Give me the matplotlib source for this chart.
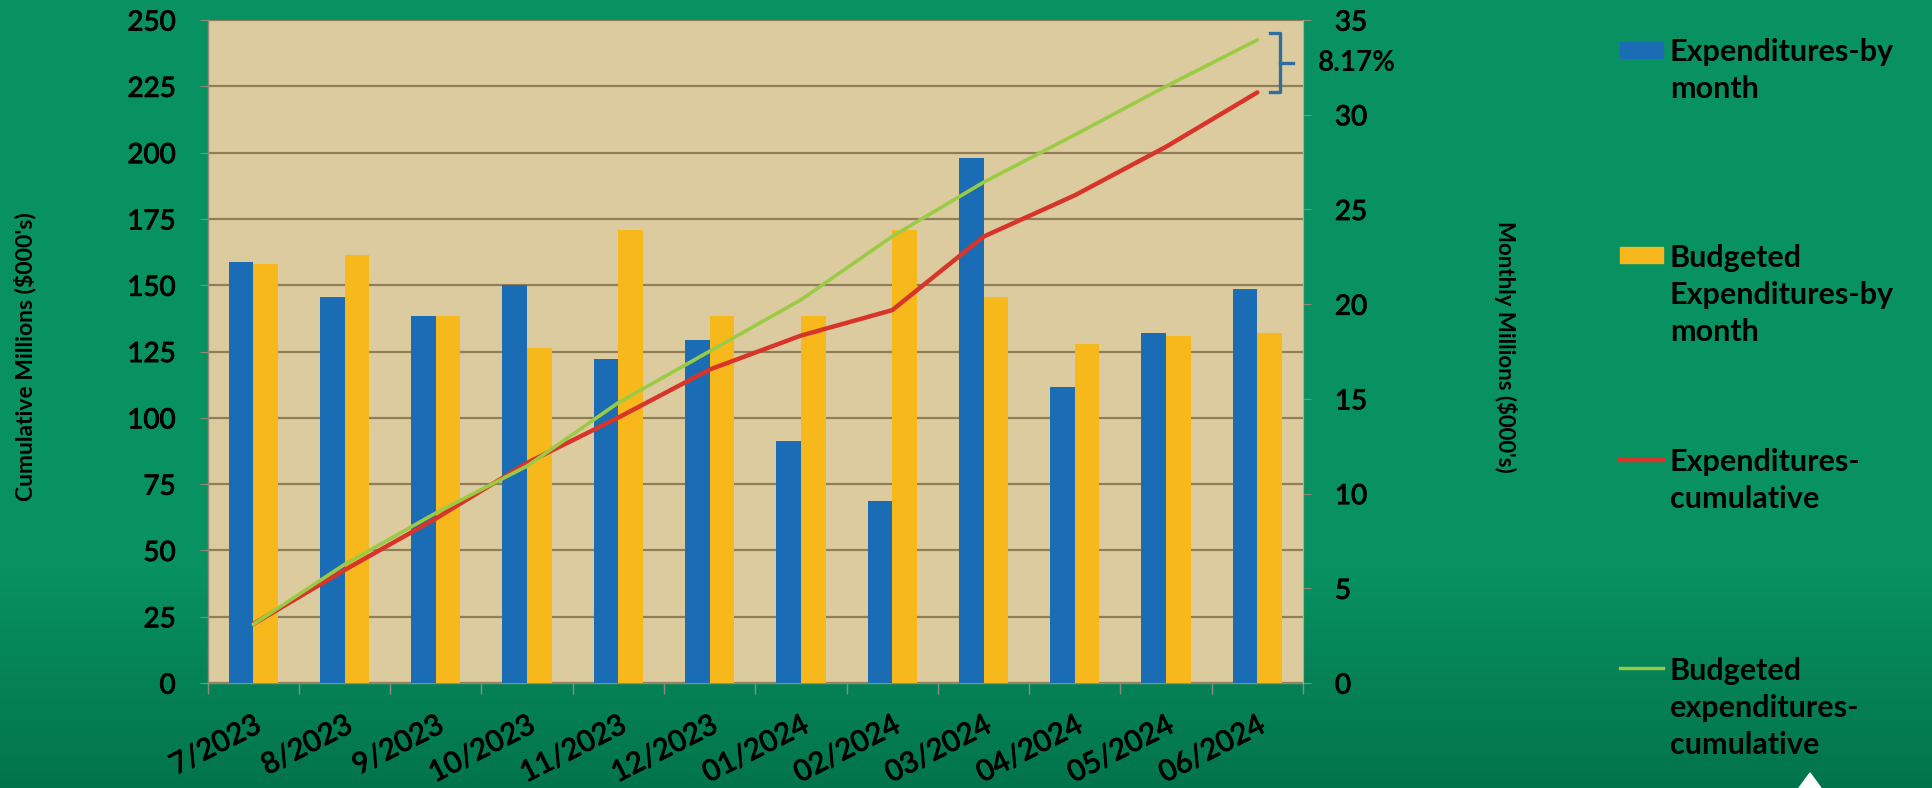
import numpy as np
import matplotlib
matplotlib.use("Agg")
import matplotlib.pyplot as plt
import matplotlib.patheffects as pe
from matplotlib.lines import Line2D
from matplotlib.patches import Rectangle, Polygon

# ---- data (millions, $000's) ----
months = ["7/2023", "8/2023", "9/2023", "10/2023", "11/2023", "12/2023",
          "01/2024", "02/2024", "03/2024", "04/2024", "05/2024", "06/2024"]
exp_monthly = [22.2, 20.4, 19.4, 21.0, 17.1, 18.1, 12.8, 9.6, 27.7, 15.6, 18.5, 20.8]
budget_monthly = [22.1, 22.6, 19.4, 17.7, 23.9, 19.4, 19.4, 23.9, 20.4, 17.9, 18.3, 18.5]
exp_cumulative = [22.2, 42.6, 62.0, 83.0, 100.1, 118.2, 131.0, 140.6, 168.3, 183.9, 202.2, 222.7]
budget_cumulative = [22.1, 44.7, 64.1, 81.8, 105.7, 125.1, 144.5, 168.4, 188.8, 206.7, 225.0, 242.5]
left_ticks = [0, 25, 50, 75, 100, 125, 150, 175, 200, 225, 250]
right_ticks = [0, 5, 10, 15, 20, 25, 30, 35]
variance_label = "8.17%"
legend_labels = ["Expenditures-by\nmonth",
                 "Budgeted\nExpenditures-by\nmonth",
                 "Expenditures-\ncumulative",
                 "Budgeted\nexpenditures-\ncumulative"]

C_BLUE = "#1A6DB4"
C_YELLOW = "#F6B81A"
C_RED = "#D8352A"
C_GREEN = "#9BCB44"
C_PLOT = "#DDCBA0"
C_GRID = "#8F7E58"
C_TICK = "#8E8C78"

plt.rcParams["font.family"] = ["Lato", "DejaVu Sans"]

# slightly heavier strokes for the tick text
thick = [pe.withStroke(linewidth=0.7, foreground="black")]

W, H = 1932, 788
fig = plt.figure(figsize=(W / 100, H / 100), dpi=100)

# green backdrop, a little darker toward the bottom
bg = fig.add_axes([0, 0, 1, 1], zorder=-10)
top_c = np.array([8, 146, 97]) / 255
bot_c = np.array([2, 116, 75]) / 255
t = np.linspace(0, 1, 256)
wgt = np.clip((t - 0.72) / 0.28, 0, 1)
grad = top_c[None, :] * (1 - wgt[:, None]) + bot_c[None, :] * wgt[:, None]
bg.imshow(grad[:, None, :], aspect="auto", extent=[0, 1, 0, 1], origin="upper")
bg.axis("off")

rect = [207.6 / W, (H - 683) / H, (1303 - 207.6) / W, (683 - 20) / H]
x = np.arange(len(months))
bw = 0.27

# base axes: cumulative scale, beige area and gridlines
ax = fig.add_axes(rect, zorder=1)
ax.set_facecolor(C_PLOT)
ax.set_xlim(-0.5, len(months) - 0.5)
ax.set_ylim(0, 250)
ax.set_yticks(left_ticks)
ax.grid(axis="y", color=C_GRID, lw=1.6)
ax.set_axisbelow(True)
ax.set_xticks(x)
ax.set_xticklabels(months, rotation=27, ha="right", rotation_mode="anchor",
                   fontsize=21)
ax.set_xticks(np.arange(-0.5, len(months), 1), minor=True)
ax.tick_params(axis="x", which="major", length=0, pad=21)
ax.tick_params(axis="x", which="minor", length=8, color=C_TICK, width=1)
ax.tick_params(axis="y", length=6, color=C_TICK, pad=17, labelsize=20)
for s in ["top", "right"]:
    ax.spines[s].set_visible(False)
for s in ["left", "bottom"]:
    ax.spines[s].set_color(C_TICK)
    ax.spines[s].set_linewidth(1)

# monthly bars on the right-hand scale
axb = ax.twinx()
axb.set_zorder(2)
axb.patch.set_visible(False)
axb.set_ylim(0, 35)
axb.set_yticks(right_ticks)
axb.tick_params(axis="y", length=6, color=C_TICK, pad=17, labelsize=20)
for s in ["top", "left", "bottom"]:
    axb.spines[s].set_visible(False)
axb.spines["right"].set_color("#B8AD88")
axb.spines["right"].set_linewidth(0.8)
axb.bar(x - bw / 2, exp_monthly, bw, color=C_BLUE)
axb.bar(x + bw / 2, budget_monthly, bw, color=C_YELLOW)

for lbl in ax.get_xticklabels() + ax.get_yticklabels() + axb.get_yticklabels():
    lbl.set_path_effects(thick)

# cumulative lines on top of the bars
axl = fig.add_axes(rect, sharex=ax, sharey=ax, zorder=3)
axl.patch.set_visible(False)
axl.axis("off")
axl.plot(x, exp_cumulative, color=C_RED, lw=3.2, solid_capstyle="round")
axl.plot(x, budget_cumulative, color=C_GREEN, lw=2.6, solid_capstyle="round")

# bracket marking the gap between actual and budget at year end
y_lo, y_hi = exp_cumulative[-1], budget_cumulative[-1] + 2.5
y_mid = (y_lo + y_hi) / 2
xb, xh, xt = 11.25, 11.14, 11.39
axl.plot([xh, xb, xb, xh], [y_hi, y_hi, y_lo, y_lo], color="#2F6E9E", lw=2.4,
         clip_on=False, solid_joinstyle="round")
axl.plot([xb, xt], [y_mid, y_mid], color="#2F6E9E", lw=2.4, clip_on=False)
axl.text(11.66, y_mid, variance_label, fontsize=20, fontweight="bold",
         ha="left", va="center", clip_on=False)

# axis titles
fig.text(25 / W, 1 - 357 / H, "Cumulative Millions ($000's)", rotation=90,
         ha="center", va="center", fontsize=16.5, fontweight="bold")
fig.text(1505 / W, 1 - 347 / H, "Monthly Millions ($000's)", rotation=-90,
         ha="center", va="center", fontsize=16, fontweight="bold")

# legend
first_baseline = [60, 265, 470, 678]
line_step = 38
hx0, hx1, tx = 1620, 1663, 1670
for i, (lab, yb) in enumerate(zip(legend_labels, first_baseline)):
    yc = yb - 10
    if i < 2:
        col = C_BLUE if i == 0 else C_YELLOW
        fig.patches.append(Rectangle((hx0 / W, 1 - (yc + 8) / H), (hx1 - hx0) / W, 16 / H,
                                     transform=fig.transFigure, color=col))
    else:
        col = C_RED if i == 2 else C_GREEN
        fig.lines.append(Line2D([hx0 / W, hx1 / W], [1 - yc / H, 1 - yc / H],
                                transform=fig.transFigure, color=col,
                                lw=3.2 if i == 2 else 2.4))
    n_lines = lab.count("\n") + 1
    y_last = yb + (n_lines - 1) * line_step
    fig.text(tx / W, 1 - y_last / H, lab, ha="left", va="baseline", fontsize=22,
             fontweight="bold", linespacing=1.4)

# small white pointer at the bottom edge
fig.patches.append(Polygon([(1810 / W, 1 - 773 / H), (1799 / W, 0), (1821 / W, 0)],
                           closed=True, transform=fig.transFigure, color="white"))

fig.savefig("out.png", dpi=100)
